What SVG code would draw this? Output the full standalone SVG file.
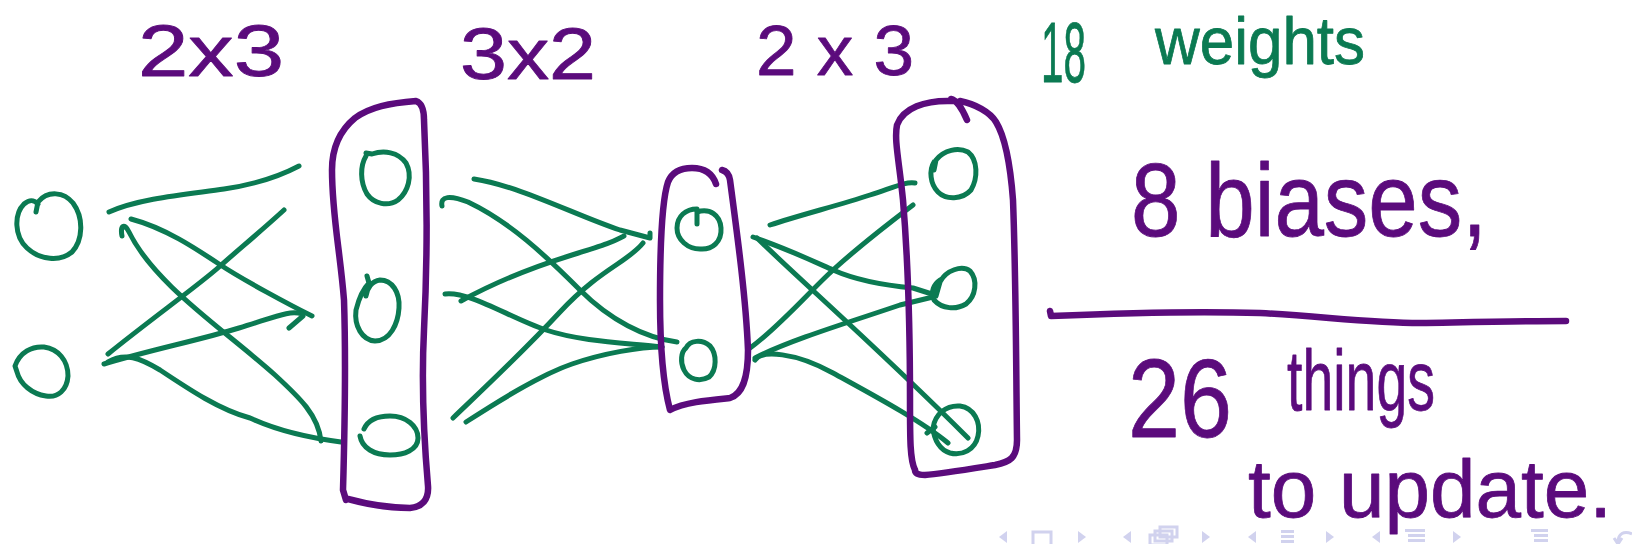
<svg xmlns="http://www.w3.org/2000/svg" width="1632" height="544" viewBox="0 0 1632 544">
<style>
.p{fill:none;stroke:#5b0b7c;stroke-width:6.5;stroke-linecap:round;stroke-linejoin:round}
.g{fill:none;stroke:#0b7a52;stroke-width:5;stroke-linecap:round;stroke-linejoin:round}
.tp{font-family:"Liberation Sans",Arial,sans-serif;fill:#5b0b7c;stroke:#5b0b7c;stroke-width:0.8;stroke-linejoin:round}
.tg{font-family:"Liberation Sans",Arial,sans-serif;fill:#0b7a52;stroke:#0b7a52;stroke-width:0.8;stroke-linejoin:round}
.nav{fill:#cfd0ee}
.navs{fill:none;stroke:#cfd0ee;stroke-width:3}
</style>
<rect width="1632" height="544" fill="#ffffff"/>

<g id="labels">
<text class="tp" x="138" y="76" font-size="72" textLength="146" lengthAdjust="spacingAndGlyphs">2x3</text>
<text class="tp" x="460" y="79" font-size="72" textLength="136" lengthAdjust="spacingAndGlyphs">3x2</text>
<text class="tp" x="756" y="75" font-size="70" textLength="158" lengthAdjust="spacingAndGlyphs">2 x 3</text>
<text class="tg" x="1041" y="82" font-size="86" textLength="45" lengthAdjust="spacingAndGlyphs">18</text>
<text class="tg" x="1155" y="64" font-size="66" textLength="210" lengthAdjust="spacingAndGlyphs">weights</text>
<text class="tp" x="1131" y="236" font-size="104" textLength="356" lengthAdjust="spacingAndGlyphs">8 biases,</text>
<text class="tp" x="1128" y="437" font-size="112" textLength="104" lengthAdjust="spacingAndGlyphs">26</text>
<text class="tp" x="1287" y="410" font-size="86" textLength="148" lengthAdjust="spacingAndGlyphs">things</text>
<text class="tp" x="1248" y="517" font-size="82" textLength="364" lengthAdjust="spacingAndGlyphs">to update.</text>
</g>

<g id="divider">
<path class="p" d="M1050,311 L1051,316 C1120,313 1200,311 1260,313 C1320,316 1370,323 1420,323 C1480,322 1530,321 1566,321"/>
</g>

<g id="connectors">
<path class="g" d="M109,212 C140,198 190,194 224,189 S282,175 299,166"/>
<path class="g" d="M131,219 C165,228 195,248 219,264 S290,305 312,316"/>
<path class="g" d="M122,236 C120,226 124,222 129,232 C155,285 225,330 275,375 C300,398 318,415 321,441"/>
<path class="g" d="M284,210 C260,232 238,250 219,267 S150,320 108,354"/>
<path class="g" d="M104,364 C150,350 200,340 239,328 S290,310 302,314 M289,328 L303,316"/>
<path class="g" d="M108,362 C125,352 140,358 160,370 C190,390 220,410 250,418 C280,432 310,438 341,442"/>

<path class="g" d="M474,179 C520,186 575,215 620,230 L650,238 L650,233"/>
<path class="g" d="M442,206 C440,196 450,195 468,202 C510,222 545,255 580,290 C610,320 645,338 677,342"/>
<path class="g" d="M461,301 C490,285 530,268 572,255 S612,242 624,236"/>
<path class="g" d="M445,294 C470,291 510,318 546,330 S630,343 662,347"/>
<path class="g" d="M453,418 C480,392 520,355 560,312 S628,262 643,243"/>
<path class="g" d="M466,422 C500,400 540,375 572,364 S640,347 662,347"/>

<path class="g" d="M770,225 C800,215 840,205 870,195 S905,182 915,183"/>
<path class="g" d="M913,205 C880,230 855,250 833,270 S778,328 750,348"/>
<path class="g" d="M753,237 C790,250 815,262 833,270 S880,285 913,288 L935,295"/>
<path class="g" d="M757,238 C800,280 880,350 968,438"/>
<path class="g" d="M755,360 C762,350 795,352 833,373 S920,420 948,443 M927,433 L935,427"/>
<path class="g" d="M755,358 C790,340 850,322 900,305 L933,297"/>
</g>

<g id="layer-in">
<g id="in1"><path class="g" d="M36,212 L38,202 C48,190 64,192 73,203 C84,218 83,240 72,252 C60,262 40,260 27,248 C14,236 14,214 24,204 C30,199 34,200 38,204"/></g>
<g id="in2"><path class="g" d="M17,372 L15,366 C20,352 32,346 44,347 C58,349 68,360 68,376 C67,390 58,398 46,396 C32,394 20,384 17,372"/></g>
</g>

<g id="layer-h1">
<path id="box1" class="p" d="M346,500 L343,490 C345,420 346,360 344,300 C340,250 332,215 332,170 C332,150 338,132 355,118 C370,107 390,103 416,101 C422,103 424,110 424,120 C428,200 427,270 424,330 C421,390 424,440 428,486 C429,500 422,507 410,508 C392,508 370,505 348,499"/>
<g id="h1"><path class="g" d="M366,153 L372,154 C384,150 398,152 406,163 C413,176 408,192 398,200 C388,207 374,204 367,194 C360,182 360,166 366,156"/></g>
<g id="h2"><path class="g" d="M367,276 L369,283 C364,288 359,298 356,310 C354,326 362,340 375,341 C390,341 398,324 399,308 C400,292 392,280 380,280 C372,281 367,288 366,296"/></g>
<g id="h3"><path class="g" d="M364,429 C368,420 378,416 390,416 C406,416 418,426 418,438 C418,450 404,455 390,455 C374,455 362,448 360,436"/></g>
</g>

<g id="layer-h2">
<path id="box2" class="p" d="M716,184 C712,172 702,168 692,168 C680,168 672,172 668,182 C662,200 660,240 660,300 C660,340 662,380 670,410 C685,402 710,400 730,398 C742,394 748,380 748,350 C746,300 738,240 730,180 C729,174 726,171 722,170"/>
<g id="b1"><path class="g" d="M697,224 L697,212 C710,208 720,215 721,228 C722,242 712,250 700,249 C688,249 677,240 677,228 C677,216 686,209 697,209"/></g>
<g id="b2"><path class="g" d="M686,348 C690,340 702,339 710,346 C717,354 717,370 709,377 C700,382 689,380 684,370 C680,362 681,352 686,348"/></g>
</g>

<g id="layer-out">
<path id="box3" class="p" d="M915,470 C910,460 910,440 910,400 C910,330 908,260 903,200 C899,160 894,140 897,125 C903,108 925,100 952,101 M951,99 C956,100 962,108 967,120 M960,101 C975,104 990,112 996,122 C1004,135 1010,160 1013,200 C1016,280 1016,360 1017,440 C1017,458 1010,462 995,465 C970,469 940,474 925,475 C918,475 915,473 915,470"/>
<g id="o1"><path class="g" d="M934,170 L936,160 C944,150 958,147 968,152 C978,160 978,178 971,190 C962,200 946,200 938,192 C930,184 929,170 934,162"/></g>
<g id="o2"><path class="g" d="M936,296 L940,282 C946,270 962,265 970,271 C978,280 976,296 966,304 C956,310 942,309 934,300 C930,292 934,284 940,280"/></g>
<g id="o3"><path class="g" d="M933,428 C935,414 946,405 960,406 C974,408 981,422 978,436 C975,450 962,456 950,453 C940,450 934,440 933,428"/></g>
</g>

<g id="nav" opacity="0.95">
<polygon class="nav" points="1007,531 999,537 1007,543"/>
<rect class="navs" x="1033" y="532" width="18" height="14"/>
<polygon class="nav" points="1078,531 1086,537 1078,543"/>
<polygon class="nav" points="1131,531 1123,537 1131,543"/>
<rect class="navs" x="1160" y="527" width="17" height="10"/>
<rect class="navs" x="1155" y="531" width="17" height="10"/>
<rect class="navs" x="1150" y="535" width="17" height="10"/>
<polygon class="nav" points="1202,531 1210,537 1202,543"/>
<polygon class="nav" points="1256,531 1248,537 1256,543"/>
<rect class="nav" x="1281" y="530" width="13" height="3"/>
<rect class="nav" x="1281" y="535" width="13" height="3"/>
<rect class="nav" x="1281" y="540" width="13" height="3"/>
<polygon class="nav" points="1326,531 1334,537 1326,543"/>
<polygon class="nav" points="1380,531 1372,537 1380,543"/>
<rect class="nav" x="1405" y="529" width="20" height="3"/>
<rect class="nav" x="1408" y="534" width="17" height="3"/>
<rect class="nav" x="1408" y="539" width="17" height="3"/>
<polygon class="nav" points="1453,531 1461,537 1453,543"/>
<rect class="nav" x="1531" y="529" width="17" height="3"/>
<rect class="nav" x="1534" y="534" width="14" height="3"/>
<rect class="nav" x="1534" y="539" width="14" height="3"/>
<path class="navs" d="M1632,534 C1624,530 1618,534 1618,542 M1614,538 L1618,544 L1622,538"/>
</g>
</svg>
